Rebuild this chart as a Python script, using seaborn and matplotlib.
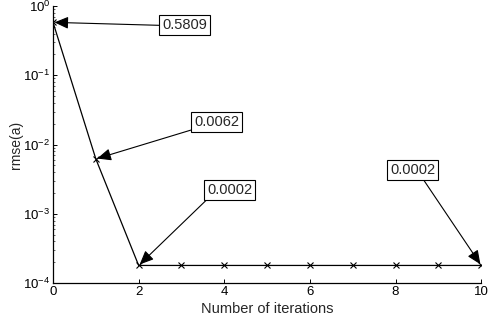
import matplotlib
matplotlib.use("Agg")
import matplotlib.pyplot as plt
import pandas as pd
import seaborn as sns

# values
iterations = [0, 1, 2, 3, 4, 5, 6, 7, 8, 9, 10]
rmse = [0.5809, 0.0062, 0.00018, 0.00018, 0.00018, 0.00018,
        0.00018, 0.00018, 0.00018, 0.00018, 0.00018]
note_iters = [0, 1, 2, 10]
note_labels = ["0.5809", "0.0062", "0.0002", "0.0002"]

sns.set_style("ticks")
plt.rcParams["font.family"] = ["Liberation Sans", "DejaVu Sans"]
plt.rcParams["xtick.direction"] = "in"
plt.rcParams["ytick.direction"] = "in"

df = pd.DataFrame({"iter": iterations, "rmse": rmse})

fig = plt.figure(figsize=(4.91, 3.16), dpi=100)
ax = fig.add_axes([0.108, 0.104, 0.872, 0.877])
sns.lineplot(data=df, x="iter", y="rmse", ax=ax, color="k", lw=0.9,
             marker="x", markersize=4, markeredgewidth=0.8, mec="k")
ax.set_yscale("log")
ax.set_xlim(0, 10)
ax.set_ylim(1e-4, 1)
ax.set_xticks(range(0, 11, 2))
ax.set_xlabel("Number of iterations", fontsize=10.5, labelpad=3)
ax.set_ylabel("rmse(a)", fontsize=10, labelpad=0)
ax.tick_params(labelsize=9.5, length=3, width=0.7, colors="k", pad=2)
ax.tick_params(which="minor", length=1.5, width=0.5)
for s in ["top", "right"]:
    ax.spines[s].set_visible(False)
for s in ["left", "bottom"]:
    ax.spines[s].set_linewidth(0.9)
    ax.spines[s].set_color("k")

# annotation boxes (axes fraction) and where the arrow leaves each box
box_pos = [(0.307, 0.930), (0.382, 0.581), (0.413, 0.336), (0.840, 0.408)]
rel = [(0.0, 0.5), (0.0, 0.0), (0.05, 0.0), (0.7, 0.0)]
for it, lab, pos, rp in zip(note_iters, note_labels, box_pos, rel):
    ax.annotate(lab, xy=(it, rmse[it]), xycoords="data",
                xytext=pos, textcoords="axes fraction",
                ha="center", va="center", fontsize=10.5,
                bbox=dict(boxstyle="square,pad=0.2", fc="white", ec="k", lw=0.8),
                arrowprops=dict(arrowstyle="-|>,head_length=0.8,head_width=0.35",
                                color="k", lw=0.8, relpos=rp,
                                shrinkA=0, shrinkB=1),
                annotation_clip=False)

fig.savefig("out.png", dpi=100)
